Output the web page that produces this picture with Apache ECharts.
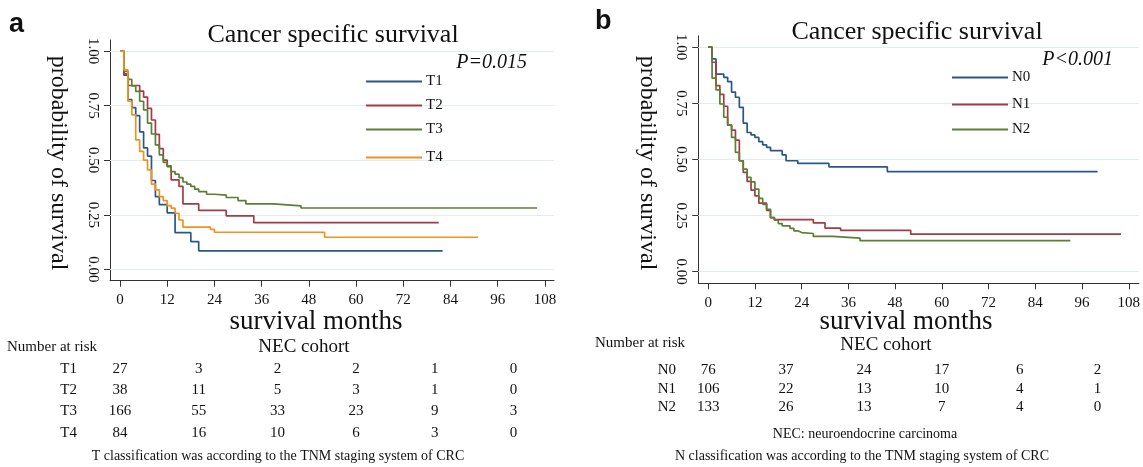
<!DOCTYPE html>
<html><head><meta charset="utf-8">
<script src="https://cdn.jsdelivr.net/npm/echarts@6/dist/echarts.min.js"></script>
<style>html,body{margin:0;padding:0;background:#fff}#c{width:1143px;height:467px}</style>
</head><body><div id="c"></div>
<script>
// ---- tick values ----
const xTicks = [0, 12, 24, 36, 48, 60, 72, 84, 96, 108];
const yTicks = [0, 0.25, 0.5, 0.75, 1];
// ---- panel a: T classification (month, survival) ----
const T1 = [[0,1],[1,0.889],[2,0.778],[3,0.741],[4,0.704],[5,0.630],[6,0.556],[7,0.519],[8,0.407],[9,0.333],[10,0.296],[12,0.259],[14,0.168],[18,0.127],[20,0.085],[82,0.085]];
const T2 = [[0,1],[1,0.895],[2,0.842],[5,0.816],[6,0.789],[7,0.737],[8,0.684],[9,0.618],[10,0.553],[11,0.50],[12,0.47],[13,0.41],[15,0.38],[16,0.30],[20,0.27],[27,0.245],[34,0.214],[81,0.214]];
const T3 = [[0,1],[1,0.907],[2,0.87],[3,0.84],[4,0.815],[5,0.77],[6,0.73],[7,0.67],[8,0.62],[9,0.57],[10,0.524],[11,0.49],[12,0.474],[13,0.448],[14,0.436],[15,0.42],[16,0.40],[17,0.39],[18,0.38],[19,0.367],[20,0.356],[22,0.344],[24,0.34],[27,0.329],[30,0.315],[32,0.300],[39,0.291],[46,0.281],[106,0.281]];
const T4 = [[0,1],[1,0.914],[2,0.77],[3,0.708],[4,0.593],[5,0.54],[6,0.50],[7,0.456],[8,0.39],[9,0.364],[10,0.333],[11,0.315],[12,0.292],[13,0.28],[14,0.257],[15,0.226],[16,0.193],[23,0.183],[24,0.17],[52,0.147],[91,0.147]];
// ---- panel b: N classification ----
const N0 = [[0,1],[1,0.948],[2,0.88],[4,0.866],[5,0.847],[6,0.80],[7,0.777],[8,0.732],[9,0.662],[10,0.62],[11,0.609],[12,0.598],[13,0.579],[14,0.565],[15,0.554],[16,0.539],[19,0.52],[20,0.494],[23,0.482],[31,0.467],[46,0.446],[100,0.446]];
const N1 = [[0,1],[1,0.933],[2,0.829],[3,0.79],[4,0.737],[5,0.653],[6,0.631],[7,0.586],[8,0.494],[9,0.442],[10,0.402],[11,0.363],[12,0.338],[13,0.305],[15,0.273],[16,0.241],[17,0.232],[27,0.217],[30,0.194],[34,0.184],[52,0.167],[106,0.167]];
const N2 = [[0,1],[1,0.862],[2,0.81],[3,0.747],[4,0.688],[5,0.653],[6,0.598],[7,0.531],[8,0.494],[9,0.457],[10,0.42],[11,0.40],[12,0.368],[13,0.326],[14,0.30],[15,0.278],[16,0.241],[17,0.229],[18,0.214],[19,0.204],[21,0.193],[22,0.182],[23,0.174],[24,0.17],[27,0.157],[32,0.149],[39,0.138],[93,0.138]];
// ---- number at risk ----
const riskTimes = [0, 20, 40, 60, 80, 100];
const riskT1 = [27, 3, 2, 2, 1, 0];
const riskT2 = [38, 11, 5, 3, 1, 0];
const riskT3 = [166, 55, 33, 23, 9, 3];
const riskT4 = [84, 16, 10, 6, 3, 0];
const riskN0 = [76, 37, 24, 17, 6, 2];
const riskN1 = [106, 22, 13, 10, 4, 1];
const riskN2 = [133, 26, 13, 7, 4, 0];

const SERIF = '"Liberation Serif","Times New Roman",serif';
const COL = {blue:'#2a5789', red:'#a23b44', green:'#5b7f35', orange:'#f0921f'};
const chart = echarts.init(document.getElementById('c'));

function xAx(gi, max) {
  return {gridIndex: gi, type: 'value', min: -2.54, max: max,
    axisLine: {onZero: false, lineStyle: {color: '#333', width: 1}},
    axisTick: {customValues: xTicks, length: 6, lineStyle: {color: '#333'}},
    axisLabel: {customValues: xTicks, margin: 12, fontFamily: SERIF, fontSize: 15, color: '#111'},
    splitLine: {show: false}};
}
function yAx(gi, min, max) {
  return {gridIndex: gi, type: 'value', min: min, max: max,
    axisLine: {show: true, onZero: false, lineStyle: {color: '#333', width: 1}},
    axisTick: {show: true, customValues: yTicks, length: 6, lineStyle: {color: '#333'}},
    axisLabel: {customValues: yTicks, rotate: -90, margin: 10, fontFamily: SERIF, fontSize: 15, color: '#111',
      formatter: v => v.toFixed(2)},
    splitLine: {show: false}};
}
function curve(name, data, color, gi) {
  return {name: name, type: 'line', step: 'end', data: data, xAxisIndex: gi, yAxisIndex: gi,
    symbol: 'none', showSymbol: false, z: 3, animation: false,
    lineStyle: {color: color, width: 1.7}, itemStyle: {color: color}};
}
function grid(gi) {
  return {type: 'line', data: [], xAxisIndex: gi, yAxisIndex: gi, z: 1, silent: true, animation: false,
    markLine: {z: 1, silent: true, symbol: 'none', label: {show: false}, animation: false,
      lineStyle: {color: '#e3ecee', width: 1.2, type: 'solid'},
      data: yTicks.map(v => ({yAxis: v}))}};
}
function leg(name, left, y) {
  return {data: [name], left: left, top: y - 9, orient: 'vertical', icon: 'rect', itemWidth: 56, itemHeight: 2,
    itemGap: 0, padding: 0, selectedMode: false, z: 8,
    textStyle: {fontFamily: SERIF, fontSize: 15, color: '#111', padding: [0, 0, 0, -1]}};
}

chart.setOption({
  animation: false,
  grid: [
    {left: 110, top: 40, width: 444, height: 240.7},
    {left: 698.3, top: 36, width: 444.7, height: 247.3}
  ],
  xAxis: [xAx(0, 110.3), xAx(1, 110.6)],
  yAxis: [yAx(0, -0.052, 1.0505), yAx(1, -0.052, 1.050)],
  legend: [
    leg('T1', 366, 83), leg('T2', 366, 107), leg('T3', 366, 131), leg('T4', 366, 159),
    leg('N0', 952, 79), leg('N1', 952, 106), leg('N2', 952, 131)
  ],
  series: [
    grid(0), grid(1),
    curve('T1', T1, COL.blue, 0), curve('T2', T2, COL.red, 0),
    curve('T3', T3, COL.green, 0), curve('T4', T4, COL.orange, 0),
    curve('N0', N0, COL.blue, 1), curve('N1', N1, COL.red, 1), curve('N2', N2, COL.green, 1)
  ]
});

function txt(text, x, y, size, opts) {
  opts = opts || {};
  return {type: 'text', x: x, y: y, rotation: opts.rot || 0, silent: true, z: 10,
    style: {text: text, fontFamily: opts.family || SERIF, fontSize: size, fontWeight: opts.weight || 'normal',
      fontStyle: opts.style || 'normal', fill: '#111', textAlign: opts.align || 'center', textVerticalAlign: 'middle'}};
}
const g = [];
// panel letters
g.push(txt('a', 9, 25, 27, {family: '"Liberation Sans",Arial,sans-serif', weight: 'bold', align: 'left'}));
g.push(txt('b', 595, 22, 27, {family: '"Liberation Sans",Arial,sans-serif', weight: 'bold', align: 'left'}));
// titles
g.push(txt('Cancer specific survival', 333, 35, 26));
g.push(txt('Cancer specific survival', 917, 32, 26));
g.push(txt('P=0.015', 527, 63, 20, {style: 'italic', align: 'right'}));
g.push(txt('P<0.001', 1113, 60, 20, {style: 'italic', align: 'right'}));
// y titles
g.push(txt('probability of survival', 58, 163, 24, {rot: -Math.PI / 2}));
g.push(txt('probability of survival', 647, 163, 24, {rot: -Math.PI / 2}));
// x titles
g.push(txt('survival months', 316, 322, 27));
g.push(txt('survival months', 906, 322, 27));
// risk tables
g.push(txt('Number at risk', 7, 347, 15, {align: 'left'}));
g.push(txt('NEC cohort', 304, 347, 19));
g.push(txt('Number at risk', 595, 343, 15, {align: 'left'}));
g.push(txt('NEC cohort', 886, 345, 19));
function riskRows(labels, rows, ys, axisIdx, labelRight) {
  labels.forEach((lab, i) => {
    g.push(txt(lab, labelRight, ys[i], 15, {align: 'right'}));
    rows[i].forEach((n, j) => {
      const x = chart.convertToPixel({xAxisIndex: axisIdx}, riskTimes[j]);
      g.push(txt(String(n), x, ys[i], 15));
    });
  });
}
riskRows(['T1', 'T2', 'T3', 'T4'], [riskT1, riskT2, riskT3, riskT4], [369, 390, 411, 433], 0, 77);
riskRows(['N0', 'N1', 'N2'], [riskN0, riskN1, riskN2], [370, 389, 407], 1, 676);
g.push(txt('T classification was according to the TNM staging system of CRC', 278, 456, 14));
g.push(txt('NEC: neuroendocrine carcinoma', 865, 434, 14));
g.push(txt('N classification was according to the TNM staging system of CRC', 862, 456, 14));
chart.setOption({graphic: {elements: g}});
</script></body></html>
